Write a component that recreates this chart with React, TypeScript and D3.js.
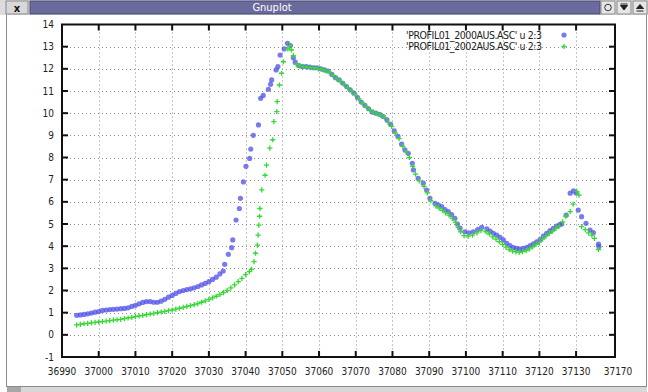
import React from "react";
import * as d3 from "d3";

// ---- data (x = column 2, y = column 3) ----
const series2000: [number, number][] = [
  [36994, 0.88], [36995, 0.9], [36996, 0.92], [36997, 0.95], [36998, 0.98], [36999, 1.02],
  [37000, 1.05], [37001, 1.1], [37002, 1.12], [37003, 1.14], [37004, 1.15], [37005, 1.16],
  [37006, 1.18], [37007, 1.19], [37008, 1.22], [37009, 1.28], [37010, 1.33], [37011, 1.4],
  [37012, 1.46], [37013, 1.5], [37014, 1.5], [37015, 1.47], [37016, 1.47], [37017, 1.52],
  [37018, 1.6], [37019, 1.7], [37020, 1.78], [37021, 1.87], [37022, 1.95], [37023, 2.0],
  [37024, 2.04], [37025, 2.08], [37026, 2.12], [37027, 2.18], [37028, 2.25], [37029, 2.32],
  [37030, 2.4], [37031, 2.5], [37032, 2.6], [37033, 2.75],
  [37033.9, 2.88], [37034.3, 3.18], [37035.3, 3.63], [37036.2, 3.93], [37036.5, 4.28],
  [37037.4, 5.18], [37038.3, 5.7], [37038.6, 6.16], [37039.4, 6.9], [37040.1, 7.6],
  [37041.1, 7.96], [37041.4, 8.38], [37042.1, 9.0], [37043.5, 9.47], [37044.1, 10.67],
  [37044.8, 10.8], [37046.2, 11.08], [37046.8, 11.3], [37047.1, 11.5], [37048.3, 11.95],
  [37048.8, 12.1], [37049.4, 12.62], [37050.5, 12.9], [37051.4, 13.15], [37052.2, 13.05],
  [37053, 12.5], [37053.5, 12.3], [37054.5, 12.15], [37055.5, 12.1], [37056.5, 12.1],
  [37057.5, 12.08], [37058.5, 12.05], [37059.5, 12.05], [37060.5, 12.0], [37061.5, 11.95],
  [37062.5, 11.9], [37063.5, 11.75], [37064.5, 11.6], [37065.5, 11.5], [37066.5, 11.35],
  [37067.5, 11.2], [37068.5, 11.05], [37069.5, 10.9], [37070.5, 10.7], [37071.5, 10.5],
  [37072.5, 10.35], [37073.5, 10.2], [37074.5, 10.05], [37075.5, 10.0], [37076.5, 9.95],
  [37077.5, 9.85], [37078.5, 9.7], [37079.5, 9.5], [37080.5, 9.2], [37081.5, 8.95],
  [37082.5, 8.6], [37083.4, 8.34], [37084.3, 8.19], [37085.4, 7.74], [37085.7, 7.44],
  [37087, 7.06], [37088.4, 6.84], [37089.3, 6.53], [37090.2, 6.16], [37091.6, 5.93],
  [37092.5, 5.85], [37093.4, 5.78], [37094.3, 5.65], [37095.2, 5.56], [37096.1, 5.42],
  [37097, 5.26], [37097.7, 5.0], [37098.4, 4.81], [37099.7, 4.65], [37100.8, 4.6],
  [37102, 4.65], [37103.2, 4.75], [37104.3, 4.85], [37105.7, 4.78], [37106.6, 4.68],
  [37107.5, 4.58], [37108.4, 4.5], [37109.3, 4.4], [37110.2, 4.28], [37111.1, 4.13],
  [37112, 4.02], [37112.9, 3.93], [37113.8, 3.9], [37114.7, 3.87], [37115.6, 3.9],
  [37116.6, 3.95], [37117.5, 4.03], [37118.4, 4.1], [37119.3, 4.2], [37120.2, 4.3],
  [37121.1, 4.45], [37122, 4.58], [37122.9, 4.7], [37123.8, 4.8], [37124.7, 4.91],
  [37125.5, 4.97], [37126.1, 5.0], [37127.3, 5.4], [37128.4, 6.39], [37129.3, 6.5],
  [37130, 6.4], [37130.6, 5.63], [37131.5, 5.33], [37132.7, 5.03], [37133.8, 4.73],
  [37134.7, 4.61], [37136.1, 4.09], [37136.2, 3.98],
];

const series2002: [number, number][] = [
  [36994, 0.45], [36995, 0.47], [36996, 0.5], [36997, 0.52], [36998, 0.54], [36999, 0.56],
  [37000, 0.58], [37001, 0.6], [37002, 0.62], [37003, 0.64], [37004, 0.66], [37005, 0.68],
  [37006, 0.7], [37007, 0.73], [37008, 0.76], [37009, 0.79], [37010, 0.82], [37011, 0.85],
  [37012, 0.88], [37013, 0.91], [37014, 0.94], [37015, 0.97], [37016, 1.0], [37017, 1.03],
  [37018, 1.06], [37019, 1.09], [37020, 1.12], [37021, 1.16], [37022, 1.2], [37023, 1.24],
  [37024, 1.28], [37025, 1.32], [37026, 1.36], [37027, 1.41], [37028, 1.47], [37029, 1.53],
  [37030, 1.6], [37031, 1.67], [37032, 1.74], [37033, 1.82], [37034, 1.9], [37035, 2.0],
  [37036, 2.12], [37037, 2.25], [37038, 2.4], [37039, 2.55], [37040, 2.72], [37041, 2.85],
  [37041.6, 2.95], [37042.3, 3.3], [37042.7, 3.68], [37043.2, 4.05], [37043.4, 4.5],
  [37043.6, 4.95], [37043.8, 5.35], [37043.9, 5.7], [37044.4, 6.54], [37045.3, 7.2],
  [37045.7, 7.66], [37046.6, 8.42], [37047.4, 8.8], [37047.7, 9.62], [37048.5, 10.07],
  [37048.6, 10.52], [37049.2, 11.27], [37049.8, 11.8], [37050.3, 12.32], [37051.5, 12.9],
  [37052, 13.05], [37052.5, 12.85],
  [37053, 12.6], [37053.8, 12.2], [37054.8, 12.12], [37055.8, 12.1], [37056.8, 12.08],
  [37057.8, 12.05], [37058.8, 12.05], [37059.8, 12.0], [37060.8, 11.98], [37061.8, 11.92],
  [37062.8, 11.85], [37063.8, 11.7], [37064.8, 11.55], [37065.8, 11.45], [37066.8, 11.3],
  [37067.8, 11.15], [37068.8, 11.0], [37069.8, 10.85], [37070.8, 10.65], [37071.8, 10.45],
  [37072.8, 10.3], [37073.8, 10.15], [37074.8, 10.05], [37075.8, 9.98], [37076.8, 9.9],
  [37077.8, 9.8], [37078.8, 9.6], [37079.8, 9.4], [37080.8, 9.1], [37081.8, 8.85],
  [37082.8, 8.5], [37083.7, 8.25], [37084.6, 8.0], [37085.5, 7.6], [37086.3, 7.25],
  [37087.3, 6.95], [37088.6, 6.7], [37089.5, 6.4], [37090.4, 6.05], [37091.8, 5.82],
  [37092.7, 5.72], [37093.6, 5.62], [37094.5, 5.5], [37095.4, 5.4], [37096.3, 5.25],
  [37097.2, 5.08], [37097.9, 4.85], [37098.6, 4.65], [37099.5, 4.48], [37100.6, 4.45],
  [37101.8, 4.5], [37103, 4.6], [37104.1, 4.7], [37105.5, 4.65], [37106.4, 4.55],
  [37107.3, 4.42], [37108.2, 4.32], [37109.1, 4.2], [37110, 4.08], [37110.9, 3.96],
  [37111.8, 3.85], [37112.7, 3.78], [37113.6, 3.74], [37114.5, 3.72], [37115.4, 3.75],
  [37116.4, 3.8], [37117.3, 3.88], [37118.2, 3.97], [37119.1, 4.08], [37120, 4.18],
  [37120.9, 4.32], [37121.8, 4.45], [37122.7, 4.58], [37123.6, 4.68], [37124.5, 4.8],
  [37125.4, 4.9], [37126.3, 5.1], [37127.2, 5.35], [37128.4, 5.56], [37129.2, 5.9],
  [37130.2, 6.46], [37130.8, 6.3], [37131.5, 4.88], [37132.5, 4.75], [37133.4, 4.6],
  [37134.3, 4.5], [37135, 4.35], [37136.1, 3.85],
];

const legendLabels = ["'PROFIL01_2000AUS.ASC' u 2:3", "'PROFIL01_2002AUS.ASC' u 2:3"];
const xDomain: [number, number] = [36990, 37140.6];
const yDomain: [number, number] = [-1, 14];
const xTickValues = [36990, 37000, 37010, 37020, 37030, 37040, 37050, 37060, 37070, 37080, 37090, 37100, 37110, 37120, 37130];
const xEndLabel = "37170";
const yTickValues = [-1, 0, 1, 2, 3, 4, 5, 6, 7, 8, 9, 10, 11, 12, 13, 14];
const windowTitle = "Gnuplot";

const W = 648;
const H = 392;
const L = 62, R = 615, T = 24.5, B = 357;
const FONT = "'Liberation Sans Narrow', 'DejaVu Sans Condensed', 'Liberation Sans', sans-serif";
const BLUE = "#4e4eea";
const GREEN = "#36d836";

export default function App() {
  const x = d3.scaleLinear().domain(xDomain).range([L, R]);
  const y = d3.scaleLinear().domain(yDomain).range([B, T]);
  const tickLen = 6;
  const innerX = xTickValues.filter((v) => v > xDomain[0]);
  const innerY = yTickValues.filter((v) => v > yDomain[0] && v < yDomain[1]);

  const plus = (cx: number, cy: number, s = 2.6) =>
    `M${cx - s},${cy}H${cx + s}M${cx},${cy - s}V${cy + s}`;

  return (
    <div style={{ position: "absolute", left: 0, top: 0, width: W, height: H }}>
      <svg width={W} height={H} style={{ display: "block" }}>
        <rect x={0} y={0} width={W} height={H} fill="#ffffff" />
        {/* window chrome */}
        <rect x={0} y={0} width={W} height={15} fill="#dcdcdc" />
        <rect x={6} y={1} width={22} height={13} fill="#d8d8d8" stroke="#8a8a8a" />
        <text x={17} y={11.5} textAnchor="middle" fontFamily="DejaVu Sans, sans-serif" fontWeight="bold" fontSize={10} fill="#111">x</text>
        <rect x={30} y={1} width={570} height={13} fill="#6a6a9c" stroke="#4a4a78" />
        <text x={272} y={11} textAnchor="middle" fontFamily={FONT} fontSize={11} fill="#ffffff">{windowTitle}</text>
        <rect x={601} y={1} width={14} height={13} fill="#e6e6e6" stroke="#8a8a8a" />
        <circle cx={608} cy={7.5} r={3.3} fill="none" stroke="#333" strokeWidth={1} />
        <rect x={617} y={1} width={14} height={13} fill="#e6e6e6" stroke="#8a8a8a" />
        <path d="M620.5,5.5H627.5L624,10Z M620.5,4H627.5" fill="#222" stroke="#222" strokeWidth={1} />
        <rect x={633} y={1} width={14} height={13} fill="#e6e6e6" stroke="#8a8a8a" />
        <path d="M636.5,8.5L640,4.5L643.5,8.5Z M636.5,11H643.5" fill="#222" stroke="#222" strokeWidth={1} />
        <line x1={6.5} y1={15} x2={6.5} y2={387} stroke="#8c8c8c" />
        <line x1={646.5} y1={15} x2={646.5} y2={387} stroke="#8c8c8c" />
        <line x1={6} y1={386.5} x2={647} y2={386.5} stroke="#8c8c8c" />
        <rect x={7} y={387} width={640} height={5} fill="#d8d8d8" />
        <rect x={7} y={387} width={14} height={5} fill="#a8a8a8" />

        {/* grid */}
        <g stroke="#8c8c8c" strokeWidth={1} strokeDasharray="1,3">
          {innerX.map((v) => (
            <line key={"gx" + v} x1={Math.round(x(v)) + 0.5} x2={Math.round(x(v)) + 0.5} y1={T} y2={B} />
          ))}
          {innerY.map((v) => (
            <line key={"gy" + v} x1={L} x2={R} y1={Math.round(y(v)) + 0.5} y2={Math.round(y(v)) + 0.5} />
          ))}
        </g>

        {/* ticks */}
        <g stroke="#111" strokeWidth={2}>
          {innerX.map((v) => (
            <g key={"tx" + v}>
              <line x1={x(v)} x2={x(v)} y1={B} y2={B - tickLen} />
              <line x1={x(v)} x2={x(v)} y1={T} y2={T + tickLen} />
            </g>
          ))}
          {innerY.map((v) => (
            <g key={"ty" + v}>
              <line x1={L} x2={L + tickLen} y1={y(v)} y2={y(v)} />
              <line x1={R} x2={R - tickLen} y1={y(v)} y2={y(v)} />
            </g>
          ))}
        </g>

        {/* tick labels */}
        <g fontFamily={FONT} fontSize={10} fill="#222">
          {yTickValues.map((v) => (
            <text key={"ly" + v} x={54} y={y(v) + 3.5} textAnchor="end">{v}</text>
          ))}
          {xTickValues.map((v) => (
            <text key={"lx" + v} x={x(v)} y={375} textAnchor="middle">{v}</text>
          ))}
          <text x={x(xDomain[1]) + 3} y={375} textAnchor="middle">{xEndLabel}</text>
        </g>

        {/* data */}
        <g fill={BLUE} fillOpacity={0.75}>
          {series2000.map(([a, b], i) => (
            <circle key={"b" + i} cx={x(a)} cy={y(b)} r={2.6} />
          ))}
        </g>
        <path
          d={series2002.map(([a, b]) => plus(x(a), y(b))).join("")}
          stroke={GREEN}
          strokeWidth={1.3}
          fill="none"
        />

        {/* legend */}
        <g fontFamily={FONT} fontSize={10.5} fill="#222">
          <text x={406} y={38.5} textLength={136} lengthAdjust="spacing">{legendLabels[0]}</text>
          <text x={406} y={50} textLength={136} lengthAdjust="spacing">{legendLabels[1]}</text>
        </g>
        <circle cx={564} cy={35} r={2.6} fill={BLUE} fillOpacity={0.75} />
        <path d={plus(564, 46.5)} stroke={GREEN} strokeWidth={1.3} fill="none" />

        {/* frame */}
        <rect x={L} y={T} width={R - L} height={B - T} fill="none" stroke="#111" strokeWidth={2} />
      </svg>
    </div>
  );
}
